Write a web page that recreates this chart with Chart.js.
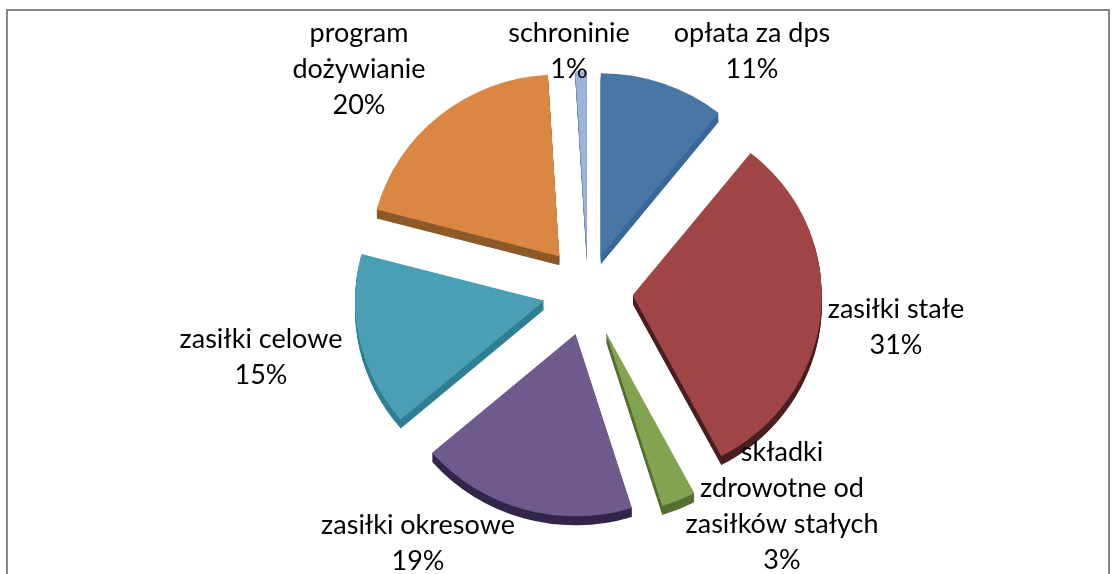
<!DOCTYPE html>
<html><head><meta charset="utf-8">
<style>html,body{margin:0;padding:0;background:#fff;overflow:hidden}
#frame{position:absolute;left:6px;top:9px;width:1104px;height:600px;border:2px solid #868686;box-sizing:border-box}
canvas{position:absolute;left:0;top:0}</style>
<script src="https://cdn.jsdelivr.net/npm/chart.js@4"></script>
</head><body>
<div id="frame"></div>
<canvas id="c" width="1120" height="574"></canvas>
<script>
const categories = ['opłata za dps','zasiłki stałe','składki zdrowotne od zasiłków stałych','zasiłki okresowe','zasiłki celowe','program dożywianie','schroninie'];
const values = [11,31,3,19,15,20,1];
const explode = [38,45,45,45,45,45,38];
const topColors = ['#4A76A6','#A04545','#82A34F','#6F5A8E','#4A9FB5','#D98743','#9DB4DA'];
const sideColors = ['#38689A','#4A1F1F','#566F31','#33264A','#2F7F94','#8E5A28','#6C82A8'];
const labelLines = [['opłata za dps'],['zasiłki stałe'],['składki','zdrowotne od','zasiłków stałych'],['zasiłki okresowe'],['zasiłki celowe'],['program','dożywianie'],['schroninie']];
const labelAnchors = [[752,33],[896,309],[782,452],[418,525],[261,339],[359,33],[569,33]];
const lineGap = 36, depth = 9, faceRx = 189, faceRy = 182;

function param(ang){
  const t = Math.atan2(faceRx*Math.sin(ang), faceRy*Math.cos(ang));
  return t + 2*Math.PI*Math.round((ang-t)/(2*Math.PI));
}
function wedge(ctx,a,dy){
  const {x,y,startAngle,endAngle} = a.getProps(['x','y','startAngle','endAngle']);
  const off = a.options.offset/4, mid=(startAngle+endAngle)/2;
  const ox = x+Math.cos(mid)*off, oy = y+Math.sin(mid)*off+dy;
  ctx.beginPath(); ctx.moveTo(ox,oy); ctx.ellipse(ox,oy,faceRx,faceRy,0,param(startAngle),param(endAngle)); ctx.closePath();
}
const sides = {id:'sides',beforeDatasetsDraw(chart){
  const ctx = chart.ctx;
  chart.getDatasetMeta(0).data.forEach((a,i)=>{
    ctx.save(); ctx.fillStyle = sideColors[i];
    for(let k=depth;k>=1;k--){ wedge(ctx,a,k); ctx.fill(); }
    ctx.restore();
  });
}};
const labels = {id:'labels',afterDatasetsDraw(chart){
  const ctx = chart.ctx;
  chart.getDatasetMeta(0).data.forEach((a,i)=>{
    ctx.save(); ctx.fillStyle = topColors[i]; wedge(ctx,a,0); ctx.fill(); ctx.restore();
  });
  ctx.save(); ctx.fillStyle='#000'; ctx.font='27px Lato'; ctx.textAlign='center'; ctx.textBaseline='middle';
  labelLines.forEach((lines,i)=>{
    const [x,y]=labelAnchors[i];
    lines.concat([values[i]+'%']).forEach((t,j)=>ctx.fillText(t,x,y+j*lineGap));
  });
  ctx.restore();
}};
new Chart(document.getElementById('c'),{
  type:'pie',
  data:{labels:categories,datasets:[{data:values,backgroundColor:topColors,borderWidth:0,offset:explode.map(d=>d*4),radius:125,hoverOffset:0}]},
  options:{responsive:false,animation:false,layout:{padding:{left:56,top:8}},
    plugins:{legend:{display:false},tooltip:{enabled:false},title:{display:false}}},
  plugins:[sides,labels]
});
</script></body></html>
